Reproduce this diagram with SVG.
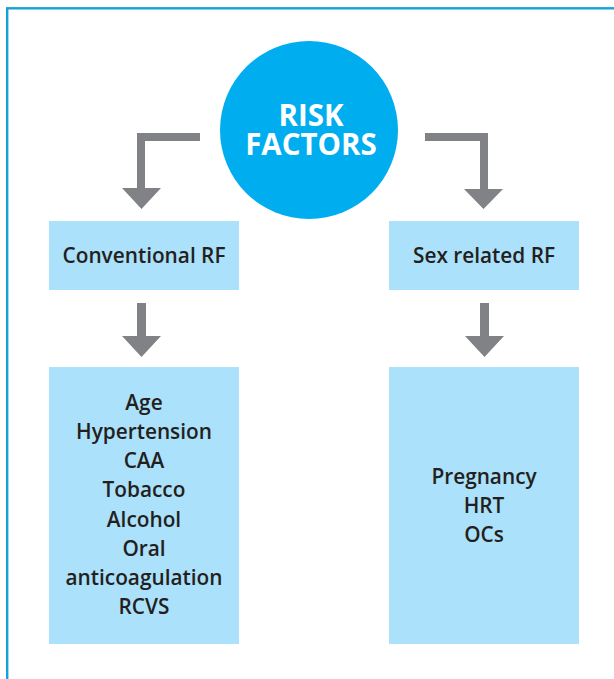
<svg xmlns="http://www.w3.org/2000/svg" width="614" height="679" viewBox="0 0 614 679">
<style>
.box{fill:#abe1fa}
.arrow{fill:#808285}
.t{font-family:"Open Sans","Noto Sans",sans-serif;font-weight:600;font-size:20.8px;fill:#231f20;text-anchor:middle}
.ct{font-family:"Open Sans","Noto Sans",sans-serif;font-weight:700;font-size:29.5px;fill:#ffffff;text-anchor:middle}
</style>
<rect x="7.2" y="8.3" width="620" height="690" fill="none" stroke="#14a3d8" stroke-width="2.4"/>
<g id="connectors">
<path class="arrow" d="M200,133 H137 V188 H122 L141.5,209 L161,188 H145 V141 H200 Z"/>
<path class="arrow" d="M425,133 H488 V189 H503 L483.5,209 L464,189 H480 V141 H425 Z"/>
<path class="arrow" d="M137,303 H146 V336 H161 L141.5,357 L122,336 H137 Z"/>
<path class="arrow" d="M480,303 H489 V336 H504 L484.5,357 L465,336 H480 Z"/>
</g>
<g id="risk-factors">
<circle cx="309" cy="130" r="89" fill="#00aeef"/>
<text class="ct" x="311" y="126">RISK</text>
<text class="ct" x="311" y="154.5">FACTORS</text>
</g>
<g id="conventional-rf">
<rect class="box" x="49" y="221" width="190" height="69"/>
<text class="t" x="144" y="262.5">Conventional RF</text>
</g>
<g id="sex-related-rf">
<rect class="box" x="389" y="221" width="190" height="69"/>
<text class="t" x="484" y="262.5">Sex related RF</text>
</g>
<g id="conventional-list">
<rect class="box" x="49" y="367" width="190" height="277"/>
<text class="t" x="144" y="409.5">Age</text>
<text class="t" x="144" y="438.8">Hypertension</text>
<text class="t" x="144" y="468.1">CAA</text>
<text class="t" x="144" y="497.4">Tobacco</text>
<text class="t" x="144" y="526.7">Alcohol</text>
<text class="t" x="144" y="556">Oral</text>
<text class="t" x="144" y="585.3">anticoagulation</text>
<text class="t" x="144" y="614.1">RCVS</text>
</g>
<g id="sex-related-list">
<rect class="box" x="389" y="367" width="190" height="277"/>
<text class="t" x="484" y="483.5">Pregnancy</text>
<text class="t" x="484" y="512.8">HRT</text>
<text class="t" x="484" y="542">OCs</text>
</g>
</svg>
